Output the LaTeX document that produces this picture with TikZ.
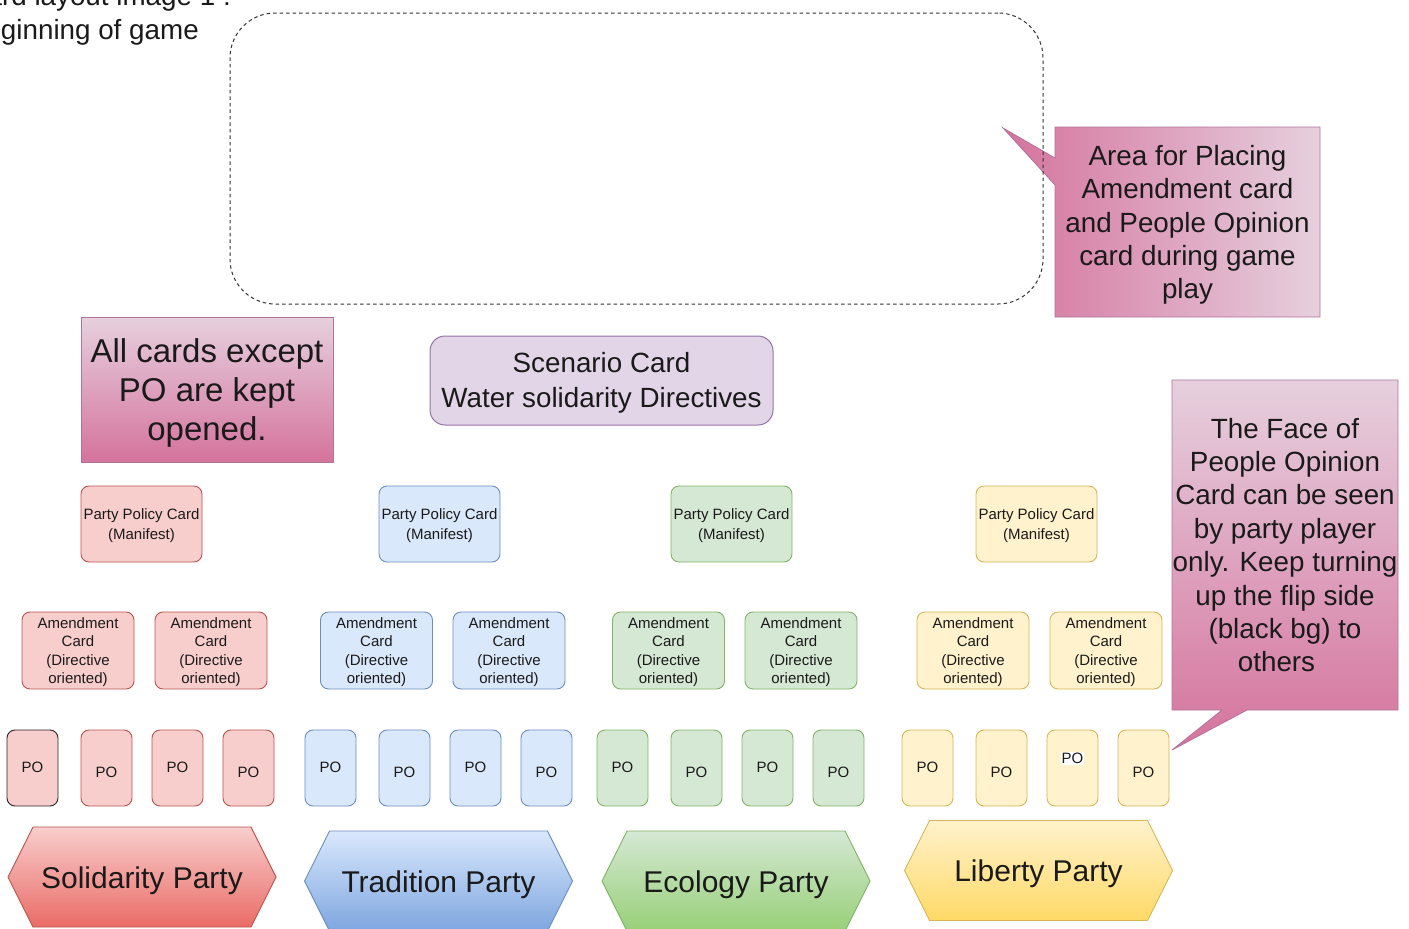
\documentclass[tikz,border=0pt]{standalone}
\usepackage{fontspec}
\setmainfont{Liberation Sans}
\definecolor{redF}{HTML}{F8CECC}
\definecolor{redS}{HTML}{B85450}
\definecolor{redG}{HTML}{EA6B66}
\definecolor{blueF}{HTML}{DAE8FC}
\definecolor{blueS}{HTML}{6C8EBF}
\definecolor{blueG}{HTML}{7EA6E0}
\definecolor{greenF}{HTML}{D5E8D4}
\definecolor{greenS}{HTML}{82B366}
\definecolor{greenG}{HTML}{97D077}
\definecolor{yelF}{HTML}{FFF2CC}
\definecolor{yelS}{HTML}{D6B656}
\definecolor{yelG}{HTML}{FFD966}
\definecolor{pinkL}{HTML}{E6D0DE}
\definecolor{pinkD}{HTML}{D5739D}
\definecolor{pinkS}{HTML}{B07399}
\definecolor{purF}{HTML}{E1D5E7}
\definecolor{purS}{HTML}{9673A6}
\definecolor{txt}{HTML}{1A1A1A}
\newcommand{\fsz}[2]{\fontsize{#1}{#2}\selectfont}
\newcommand{\potxt}[1]{\raisebox{#1}[0pt][0pt]{PO}}
\newcommand{\partyhex}[7]{%
  \path[draw=#5, line width=0.9pt, top color=#3, bottom color=#4]
    (#1-134,#2) -- (#1-109,#2-50) -- (#1+109,#2-50) -- (#1+134,#2)
    -- (#1+109,#2+50) -- (#1-109,#2+50) -- cycle;
  \node[hexlabel] (#6) at (#1,#2+3.5) {#7};}
\begin{document}
\begin{tikzpicture}[x=1pt,y=-1pt,
  every node/.style={text=txt},
  card/.style={draw, rounded corners=8pt, line width=0.9pt, inner sep=0pt, align=center},
  ppc/.style={card, minimum width=121pt, minimum height=76pt, font=\fsz{15}{20}},
  amc/.style={card, minimum width=112pt, minimum height=77pt, font=\fsz{15}{18.3}},
  pocard/.style={card, minimum width=51pt, minimum height=76pt, font=\fsz{15}{18}},
  hexlabel/.style={font=\fsz{30}{36}, inner sep=0pt},
  note/.style={align=center, inner sep=0pt, font=\fsz{27.8}{33.4}},
  redc/.style={fill=redF, draw=redS},
  bluec/.style={fill=blueF, draw=blueS},
  greenc/.style={fill=greenF, draw=greenS},
  yelc/.style={fill=yelF, draw=yelS},
]
\useasboundingbox (0,0) rectangle (1409,929);

% title (cut off by the page edge, as in the reference)
\node[note, anchor=base east] (title1) at (231,5) {Board layout image 1 :};
\node[note, anchor=base east] (title2) at (199,39) {Beginning of game};

% callout 1
\path[draw=pinkS, line width=0.8pt, left color=pinkD, right color=pinkL]
  (1055,127) -- (1320,127) -- (1320,317) -- (1055,317) -- (1055,185)
  -- (1003,128) -- (1055,158) -- cycle;
\node[note] (area note) at (1187.5,225)
  {Area for Placing\\Amendment card\\and People Opinion\\card during game\\play};

% dashed play area
\node[draw=black!80, line width=1pt, dash pattern=on 3.5pt off 3pt,
  rounded corners=45pt, minimum width=813pt, minimum height=291pt, inner sep=0pt]
  (area) at (636.5,158.5) {};

% all cards note
\path[draw=pinkS, line width=0.8pt, top color=pinkL, bottom color=pinkD]
  (81,317) rectangle (333,462);
\node[note, font=\fsz{33}{39}] (open note) at (207,392.5)
  {All cards except\\PO are kept\\opened.};

% scenario card
\node[draw=purS, fill=purF, line width=1pt, rounded corners=15pt,
  minimum width=343pt, minimum height=89pt, inner sep=0pt]
  (scenario) at (601.5,380.5) {};
\node[align=center, inner sep=0pt, font=\fsz{27.8}{35}] (scenario text)
  at (601.5,382.5) {Scenario Card\\Water solidarity Directives};

% callout 2
\path[draw=pinkS, line width=0.8pt, top color=pinkL, bottom color=pinkD]
  (1172,380) -- (1398,380) -- (1398,710) -- (1247,710) -- (1172,750)
  -- (1222,710) -- (1172,710) -- cycle;
\node[note] (face note) at (1285,545)
  {The Face of\\People Opinion\\Card can be seen\\by party player\\only. Keep turning\\up the flip side\\(black bg) to\\others\hspace*{17pt}};

% party policy cards
\foreach \x/\c/\n in {141.5/redc/1, 439.5/bluec/2, 731.5/greenc/3, 1036.5/yelc/4}
  \node[ppc, \c] (pp\n) at (\x,524)
    {\raisebox{-2pt}[\height][\depth]{\parbox{120pt}{\centering Party Policy Card\\(Manifest)}}};

% amendment cards
\foreach \x/\c/\n in {78/redc/r1, 211/redc/r2, 376.5/bluec/b1, 509/bluec/b2,
  668.5/greenc/g1, 801/greenc/g2, 973/yelc/y1, 1106/yelc/y2}
  \node[amc, \c] (am\n) at (\x,650.5)
    {\raisebox{-1.5pt}[\height][\depth]{\parbox{110pt}{\centering Amendment\\Card\\(Directive\\oriented)}}};

% PO cards
\node[pocard, fill=redF, draw=black!85] (por1) at (32.5,768) {\potxt{-4.4pt}};
\node[pocard, redc] (por2) at (106.5,768) {\potxt{-9.4pt}};
\node[pocard, redc] (por3) at (177.5,768) {\potxt{-4.4pt}};
\node[pocard, redc] (por4) at (248.5,768) {\potxt{-9.4pt}};
\node[pocard, bluec] (pob1) at (330.5,768) {\potxt{-4.4pt}};
\node[pocard, bluec] (pob2) at (404.5,768) {\potxt{-9.4pt}};
\node[pocard, bluec] (pob3) at (475.5,768) {\potxt{-4.4pt}};
\node[pocard, bluec] (pob4) at (546.5,768) {\potxt{-9.4pt}};
\node[pocard, greenc] (pog1) at (622.5,768) {\potxt{-4.4pt}};
\node[pocard, greenc] (pog2) at (696.5,768) {\potxt{-9.4pt}};
\node[pocard, greenc] (pog3) at (767.5,768) {\potxt{-4.4pt}};
\node[pocard, greenc] (pog4) at (838.5,768) {\potxt{-9.4pt}};
\node[pocard, yelc] (poy1) at (927.5,768) {\potxt{-4.4pt}};
\node[pocard, yelc] (poy2) at (1001.5,768) {\potxt{-9.4pt}};
\node[pocard, yelc] (poy3) at (1072.5,768)
  {\raisebox{4.6pt}[0pt][0pt]{\setlength{\fboxsep}{1pt}\colorbox{white}{PO}}};
\node[pocard, yelc] (poy4) at (1143.5,768) {\potxt{-9.4pt}};

% party hexagons
\partyhex{142}{877}{redF}{redG}{redS}{solidarity}{Solidarity Party}
\partyhex{438.5}{881}{blueF}{blueG}{blueS}{tradition}{Tradition Party}
\partyhex{736}{881}{greenF}{greenG}{greenS}{ecology}{Ecology Party}
\partyhex{1038.5}{870.5}{yelF}{yelG}{yelS}{liberty}{Liberty Party}
\end{tikzpicture}
\end{document}
